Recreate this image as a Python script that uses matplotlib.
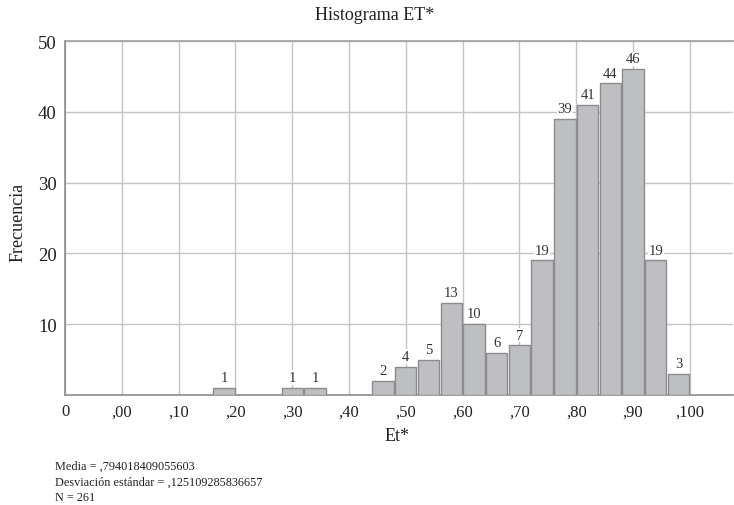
import matplotlib.pyplot as plt
import numpy as np

plt.rcParams['font.family'] = ['Liberation Serif', 'DejaVu Serif']

# histogram bins (left edge) and frequencies
bin_left = [0.16, 0.28, 0.32, 0.44, 0.48, 0.52, 0.56, 0.60, 0.64, 0.68,
            0.72, 0.76, 0.80, 0.84, 0.88, 0.92, 0.96]
counts = [1, 1, 1, 2, 4, 5, 13, 10, 6, 7, 19, 39, 41, 44, 46, 19, 3]
bin_width = 0.04

xtick_pos = [-0.1, 0.0, 0.1, 0.2, 0.3, 0.4, 0.5, 0.6, 0.7, 0.8, 0.9, 1.0]
xtick_labels = ['0', ',00', ',10', ',20', ',30', ',40', ',50', ',60',
                ',70', ',80', ',90', ',100']
ytick_pos = [10, 20, 30, 40, 50]

stats_text = ['Media = ,794018409055603',
              'Desviación estándar = ,125109285836657',
              'N = 261']

fig = plt.figure(figsize=(7.34, 5.06), dpi=100)
ax = fig.add_axes([65/734, 110/506, 668/734, 354/506])

gap = 0.0025
centers = np.array(bin_left) + bin_width/2
ax.bar(centers, counts, width=bin_width - gap, color='#bebfc3',
       edgecolor='#8c8c8c', linewidth=1.0, zorder=3)
for x, c in zip(centers, counts):
    ax.text(x, c + 0.55, str(c), ha='center', va='bottom',
            fontsize=10.5, color='#333333', zorder=4,
            bbox=dict(facecolor='white', edgecolor='none', pad=0.5))

ax.set_xlim(-0.1, 1.076)
ax.set_ylim(0, 50)
ax.set_xticks(xtick_pos)
ax.set_xticklabels(xtick_labels)
ax.set_yticks(ytick_pos)
ax.tick_params(axis='both', length=0, colors='#222222')
ax.tick_params(axis='x', pad=6, labelsize=12)
ax.tick_params(axis='y', pad=6, labelsize=13.5)

ax.grid(True, color='#c4c4c4', linewidth=1.0, zorder=0)
ax.set_axisbelow(True)
ax.spines['right'].set_visible(False)
ax.spines['top'].set_color('#a0a0a0')
ax.spines['left'].set_color('#8c8c8c')
ax.spines['bottom'].set_color('#8c8c8c')
for s in ['top', 'left', 'bottom']:
    ax.spines[s].set_linewidth(1.2)

fig.text(375/734, 1 - 15/506, 'Histograma ET*', ha='center', va='center',
         fontsize=13, color='#222222')
fig.text(397/734, 1 - 437/506, 'Et*', ha='center', va='center',
         fontsize=13, color='#222222')
fig.text(18/734, 1 - 222/506, 'Frecuencia', ha='center', va='center',
         rotation=90, fontsize=13, color='#222222')
for i, line in enumerate(stats_text):
    fig.text(55/734, 1 - (467 + 15.5*i)/506, line, ha='left', va='center',
             fontsize=8.8, color='#222222')

fig.savefig('out.png', dpi=100)
